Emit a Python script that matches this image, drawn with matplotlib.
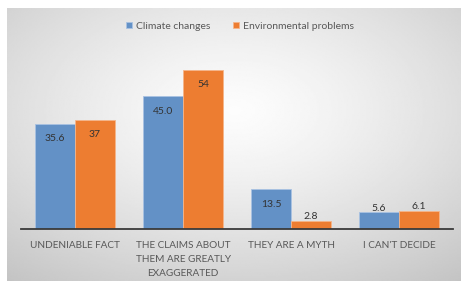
import matplotlib.pyplot as plt
import numpy as np

categories = ['UNDENIABLE FACT', 'THE CLAIMS ABOUT\nTHEM ARE GREATLY\nEXAGGERATED',
              'THEY ARE A MYTH', "I CAN'T DECIDE"]
climate = [35.6, 45.0, 13.5, 5.6]
environment = [37, 54, 2.8, 6.1]
climate_labels = ['35.6', '45.0', '13.5', '5.6']
environment_labels = ['37', '54', '2.8', '6.1']
series_names = ['Climate changes', 'Environmental problems']

blue = '#6391c6'
orange = '#ed7d31'
W, H = 461, 281

plt.rcParams['font.family'] = ['Lato', 'DejaVu Sans']
fig = plt.figure(figsize=(W / 100, H / 100), dpi=100)

# gradient background of the chart area
bg = fig.add_axes([7 / W, 0, 1 - 7 / W, 273 / H])
yy, xx = np.mgrid[-1:1:200j, -1:1:300j]
r = np.sqrt(xx ** 2 + (yy + 0.25) ** 2) / np.sqrt(2)
bg.imshow(0.99 - 0.19 * r ** 1.3, cmap='gray', vmin=0, vmax=1,
          aspect='auto', extent=[0, 1, 0, 1], interpolation='bilinear', origin='upper')
bg.axis('off')

ax = fig.add_axes([21 / W, 52 / H, 432 / W, 189 / H])
ax.patch.set_visible(False)
x = np.arange(len(categories))
w = 0.37
b1 = ax.bar(x - w / 2, climate, w, color=blue, edgecolor='#a9c2e2', linewidth=0.6,
            label=series_names[0])
b2 = ax.bar(x + w / 2, environment, w, color=orange, edgecolor='#f5b58a', linewidth=0.6,
            label=series_names[1])
ax.set_xlim(-0.5, 3.5)
ax.set_ylim(0, 64)

px = 72 / 100
for bars, labels in ((b1, climate_labels), (b2, environment_labels)):
    for rect, lab in zip(bars, labels):
        h = rect.get_height()
        dy = -15 if h > 10 else 4
        ax.annotate(lab, (rect.get_x() + rect.get_width() / 2, h),
                    xytext=(0, dy * px), textcoords='offset points',
                    ha='center', va='center', fontsize=7.5, color='#333333')

ax.set_xticks(x)
ax.set_xticklabels(categories, fontsize=7.2, color='#595959', linespacing=1.65)
ax.tick_params(axis='x', length=0, pad=9)
ax.set_yticks([])
for s in ('top', 'right', 'left'):
    ax.spines[s].set_visible(False)
ax.spines['bottom'].set_color('#3a3a3a')
ax.spines['bottom'].set_linewidth(1.3)

fig.legend(loc='center', bbox_to_anchor=(240 / W, 1 - 26 / H), ncol=2, frameon=False,
           fontsize=7.5, handlelength=0.55, handleheight=0.55, handletextpad=0.4,
           columnspacing=2.2, labelcolor='#595959')

fig.savefig('out.png', dpi=100)
